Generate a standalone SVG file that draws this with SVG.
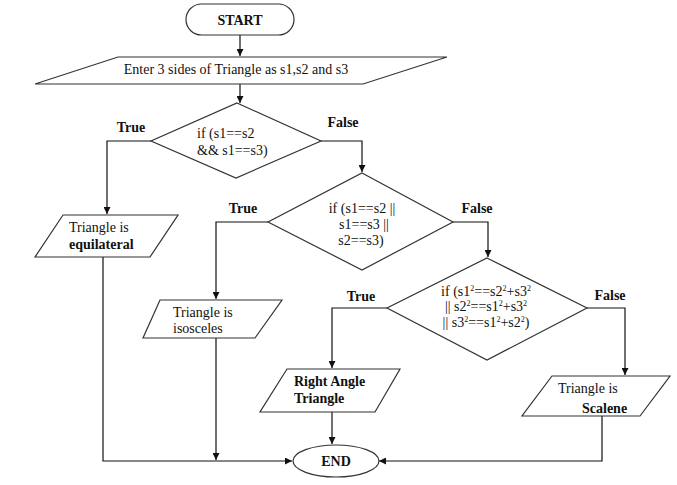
<svg xmlns="http://www.w3.org/2000/svg" width="677" height="485" viewBox="0 0 677 485">
<style>
text{font-family:"Liberation Serif","Times New Roman",serif;font-size:14px;fill:#111}
.b{font-weight:bold}
.c{text-anchor:middle}
.sh{fill:#fff;stroke:#333;stroke-width:1.2}
.ln{fill:none;stroke:#111;stroke-width:1.2}
.sup{font-size:8px}
</style>
<defs>
<marker id="ah" viewBox="0 0 10 10" refX="10" refY="5" markerWidth="7" markerHeight="7" markerUnits="userSpaceOnUse" orient="auto">
<path d="M0,0 L10,5 L0,10 z" fill="#111"/>
</marker>
</defs>
<rect width="677" height="485" fill="#fff"/>
<g id="connectors" class="ln" marker-end="url(#ah)">
<path d="M240,35 V56"/>
<path d="M240,84 V103"/>
<path d="M151,141 H107 V214"/>
<path d="M321,141 H362 V172"/>
<path d="M268,222 H216 V299"/>
<path d="M453,222 H488 V257"/>
<path d="M387,308 H332 V368"/>
<path d="M587,308 H625 V375"/>
<path d="M103,257 V461 H292"/>
<path d="M216,338 V460"/>
<path d="M332,412 V444"/>
<path d="M602,416 V461 H379"/>
</g>
<g id="start">
<rect class="sh" x="186" y="4" width="108" height="31" rx="15.5"/>
<text class="b c" x="240" y="25">START</text>
</g>
<g id="input">
<polygon class="sh" points="118,57 447,57 363,84 35,84"/>
<text class="c" x="236" y="74">Enter 3 sides of  Triangle as s1,s2 and s3</text>
</g>
<g id="decision1">
<polygon class="sh" points="237,103 321,141 236,178 151,141"/>
<text x="197" y="138">if (s1==s2</text>
<text x="197" y="155">&amp;&amp; s1==s3)</text>
<text class="b c" x="131" y="132">True</text>
<text class="b c" x="343" y="127">False</text>
</g>
<g id="equilateral">
<polygon class="sh" points="63,215 178,215 150,257 35,257"/>
<text x="69" y="232">Triangle is</text>
<text class="b" x="69" y="249">equilateral</text>
</g>
<g id="decision2">
<polygon class="sh" points="362,173 453,222 362,270 268,222"/>
<text class="c" x="362" y="213">if (s1==s2 ||</text>
<text class="c" x="364" y="229">s1==s3 ||</text>
<text class="c" x="361" y="245">s2==s3)</text>
<text class="b c" x="243" y="213">True</text>
<text class="b c" x="477" y="213">False</text>
</g>
<g id="isosceles">
<polygon class="sh" points="160,300 282,300 255,338 143,338"/>
<text x="173" y="317">Triangle is</text>
<text x="173" y="333">isosceles</text>
</g>
<g id="decision3">
<polygon class="sh" points="487,258 587,308 487,360 387,308"/>
<text class="c" x="486" y="296">if (s1<tspan class="sup" dy="-5">2</tspan><tspan dy="5">==s2</tspan><tspan class="sup" dy="-5">2</tspan><tspan dy="5">+s3</tspan><tspan class="sup" dy="-5">2</tspan></text>
<text class="c" x="486" y="311">|| s2<tspan class="sup" dy="-5">2</tspan><tspan dy="5">==s1</tspan><tspan class="sup" dy="-5">2</tspan><tspan dy="5">+s3</tspan><tspan class="sup" dy="-5">2</tspan></text>
<text class="c" x="486" y="327">|| s3<tspan class="sup" dy="-5">2</tspan><tspan dy="5">==s1</tspan><tspan class="sup" dy="-5">2</tspan><tspan dy="5">+s2</tspan><tspan class="sup" dy="-5">2</tspan><tspan dy="5">)</tspan></text>
<text class="b c" x="361" y="301">True</text>
<text class="b c" x="610" y="300">False</text>
</g>
<g id="rightangle">
<polygon class="sh" points="287,369 400,369 375,412 260,412"/>
<text class="b" x="294" y="386">Right Angle</text>
<text class="b" x="294" y="403">Triangle</text>
</g>
<g id="scalene">
<polygon class="sh" points="552,376 670,376 640,416 522,416"/>
<text x="558" y="393">Triangle is</text>
<text class="b" x="582" y="413">Scalene</text>
</g>
<g id="end">
<ellipse class="sh" cx="336" cy="461" rx="43" ry="16"/>
<text class="b c" x="336" y="466">END</text>
</g>
</svg>
